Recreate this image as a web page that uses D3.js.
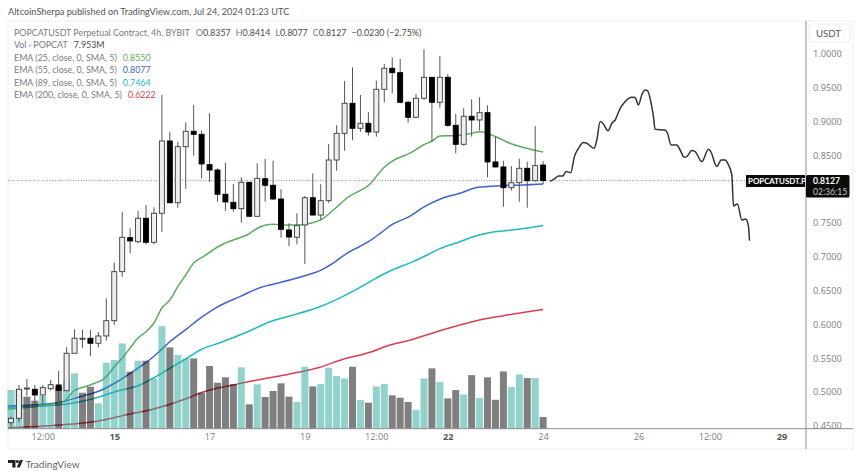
<!DOCTYPE html>
<html>
<head>
<meta charset="utf-8">
<script src="https://cdn.jsdelivr.net/npm/d3@7"></script>
<style>
html,body{margin:0;padding:0;background:#fff;}
svg{display:block;}
text{font-family:Lato,"Noto Sans",sans-serif;}
</style>
</head>
<body>
<svg id="chart" width="860" height="476"></svg>
<script>
const opens=[.4546,.4611,.5045,.5040,.4956,.5049,.5104,.5019,.5573,.5787,.5795,.5721,.5829,.6055,.6780,.7283,.7224,.7570,.7215,.7644,.8713,.7800,.8629,.8857,.8812,.8363,.8284,.7925,.7806,.7712,.8102,.7599,.8155,.8058,.7855,.7397,.7289,.7471,.7874,.7618,.7830,.8432,.8827,.9271,.8901,.8975,.8846,.9478,.9789,.9724,.9286,.9064,.9345,.9655,.9286,.9655,.8945,.8664,.9079,.9024,.9132,.8403,.8329,.8022,.8096,.8309,.8126,.8357];
const highs=[.4635,.5104,.5192,.5104,.5104,.5178,.5311,.5661,.5928,.5917,.5917,.5888,.6386,.6913,.7663,.7422,.7682,.7767,.7732,.9394,.8851,.8703,.8990,.9246,.8866,.9123,.8309,.8392,.8077,.8176,.8107,.8383,.8447,.8422,.7999,.7496,.7644,.7900,.8235,.8073,.8669,.8945,.9601,.9803,.9394,.9138,.9605,.9852,.9951,.9926,.9309,.9408,1.0070,.9655,.9971,.9700,.9113,.9197,.9330,.9360,.9241,.8777,.8422,.8343,.8451,.8407,.8935,.8414];
const lows=[.4487,.4556,.4941,.4808,.4808,.5019,.4808,.5015,.5570,.5651,.5533,.5661,.5759,.5991,.6706,.7052,.7200,.7185,.7185,.7371,.7792,.7726,.8003,.8496,.8161,.8111,.7815,.7678,.7667,.7505,.7593,.7593,.7815,.7840,.7283,.7160,.7185,.6894,.7614,.7545,.7800,.8274,.8570,.8728,.8851,.8792,.8777,.9286,.9419,.9271,.8984,.9053,.9320,.8703,.9206,.8925,.8531,.8644,.8777,.8866,.8176,.8324,.7741,.7978,.7815,.7726,.8111,.8077];
const closes=[.4611,.5040,.5059,.4956,.5064,.5108,.5025,.5573,.5795,.5795,.5721,.5829,.6055,.6780,.7289,.7234,.7570,.7215,.7644,.8713,.7800,.8629,.8857,.8812,.8373,.8284,.7925,.7811,.7712,.8102,.7599,.8161,.8058,.7855,.7407,.7293,.7460,.7874,.7618,.7830,.8432,.8827,.9271,.8901,.8975,.8846,.9478,.9789,.9724,.9286,.9064,.9345,.9655,.9286,.9655,.8945,.8664,.9079,.9024,.9132,.8403,.8329,.8022,.8096,.8309,.8126,.8348,.8127];
const volumes=[26.3,26.3,21.8,19.1,22.2,16.1,28.6,33.1,37.7,24.5,28.6,17.3,44.9,46.8,58.1,38.8,46.3,46.3,34.3,69.9,55.4,50.2,47.9,47.9,24.5,42.7,31.3,35.0,30.4,41.8,16.6,30.2,21.6,25.7,30.9,21.8,18.2,42.2,28.8,30.4,41.5,35.9,34.3,42.2,19.5,17.7,28.8,30.4,22.7,21.1,18.2,12.7,34.3,41.1,31.8,20.7,26.3,23.4,36.5,20.9,35.0,19.7,39.0,28.4,37.0,34.5,34.5,7.953];
const volumeUp=[1,1,0,0,1,1,0,1,1,0,0,1,1,1,1,0,1,0,1,1,0,1,1,0,0,0,0,0,0,1,0,1,0,0,0,0,1,1,0,1,1,1,1,0,1,0,1,1,0,0,0,1,1,0,1,0,0,1,0,1,0,0,0,1,1,0,1,0];

const ema25Idx=[-0.4,5.9,6.9,7.9,9.95,12,13,14,15,16,17,18,19,20,21,22,23,24.2,26.7,28,29.7,31.4,33,34.3,36,37.7,39,40.6,42.3,45.2,46.9,48.1,50.3,51.9,53,54,55.9,57.4,59.1,61.2,62.8,64.9,67];
const ema25=[.4749,.4837,.4882,.5015,.5104,.5226,.5374,.5503,.5651,.5799,.5892,.6021,.6243,.6361,.6558,.6731,.6908,.7002,.7189,.7249,.7323,.7445,.7481,.7471,.7471,.7496,.7545,.7692,.7870,.8077,.8314,.8422,.8536,.8654,.8713,.8787,.8792,.8812,.8851,.8768,.8679,.8605,.8550];
const ema55Idx=[-0.4,5.9,8.7,11.2,13.1,16.25,17.9,20,22.2,23.8,25.7,28.8,31.6,32.6,35.1,37.7,38.9,40.2,42.3,45,46.5,47.9,50.3,51.9,54,56.5,58.8,61.6,64.5,67];
const ema55=[.4793,.4842,.4931,.5019,.5133,.5374,.5518,.5744,.5942,.6090,.6238,.6410,.6553,.6583,.6657,.6746,.6795,.6879,.7052,.7223,.7348,.7471,.7604,.7732,.7851,.7940,.8028,.8052,.8062,.8077];
const ema89Idx=[-0.4,5.9,8.7,11.2,13.1,16.25,18.1,20,22.2,23.8,26.3,30.1,32.6,35.1,38.9,43.5,45.2,47.7,50.3,52.4,54,56.5,58.8,60.7,62.8,67];
const ema89=[.4774,.4808,.4857,.4931,.5005,.5104,.5218,.5351,.5503,.5621,.5729,.5907,.6040,.6125,.6262,.6519,.6632,.6790,.6913,.7027,.7120,.7223,.7318,.7367,.7392,.7464];
const ema200Idx=[-0.4,6.2,11.2,15,17.5,22.2,23.8,28,32.6,35.1,38.9,41.8,45.2,47.7,50.3,53.6,58.6,62,67];
const ema200=[.4472,.4512,.4576,.4675,.4734,.4907,.4985,.5104,.5212,.5266,.5366,.5484,.5587,.5695,.5769,.5892,.6055,.6129,.6222];

const sketchIdx=[67.88,68.51,68.93,69.47,69.89,70.48,70.94,71.45,72.08,72.50,72.92,73.42,73.76,74.18,74.51,75.18,75.65,76.07,76.70,77.32,78.16,78.58,79.00,79.42,79.84,80.14,80.56,80.89,81.10,82.36,82.66,83.12,83.83,84.25,84.76,85.09,85.72,86.14,86.98,87.82,88.11,88.87,89.42,89.92,90.34,90.76,90.97,91.47,92.02,92.52,92.86,92.98];
const sketchPrice=[.8117,.8161,.8196,.8196,.8260,.8245,.8482,.8605,.8689,.8679,.8640,.8605,.8728,.9000,.8975,.8866,.8975,.9024,.9197,.9295,.9360,.9355,.9246,.9394,.9468,.9458,.9295,.9074,.8886,.8876,.8827,.8654,.8654,.8580,.8472,.8482,.8571,.8556,.8408,.8590,.8556,.8334,.8433,.8433,.8359,.8211,.7752,.7782,.7545,.7560,.7446,.7239];

const priceTicks=[1.0,.95,.9,.85,.75,.7,.65,.6,.55,.5,.45];
const timeTickIdx=[4,13,25,37,46,55,67,79,88,97];
const timeTickLabels=["12:00","15","17","19","12:00","22","24","26","12:00","29"];
const boldTimeLabels=["15","22","29"];
const lastPrice=.8127;

const svg=d3.select("#chart");
const paneL=8,paneR=806,paneT=21,paneB=428.7,frameR=853,frameB=449;
const x=d3.scaleLinear().domain([-0.378,100.1]).range([paneL,paneR]);
const y=d3.scaleLinear().domain([.45,1.0]).range([425.8,54]);
const vol=d3.scaleLinear().domain([0,100]).range([paneB,paneB-146.8]);

// frame
svg.append("rect").attr("x",paneL).attr("y",paneT).attr("width",frameR-paneL).attr("height",frameB-paneT)
  .attr("fill","none").attr("stroke","#eceef1");

// EMAs (below the translucent volume)
const lineGen=d3.line().x(d=>x(d[0])).y(d=>y(d[1])).curve(d3.curveMonotoneX);
const emaSeries=[[ema200Idx,ema200,"#d9404f"],[ema89Idx,ema89,"#22b7c1"],[ema55Idx,ema55,"#3e63cc"],[ema25Idx,ema25,"#5cab5f"]];
emaSeries.forEach(s=>{
  svg.append("path").datum(d3.zip(s[0],s[1])).attr("d",lineGen)
    .attr("fill","none").attr("stroke",s[2]).attr("stroke-width",1.5);
});

// volume
svg.append("g").selectAll("rect").data(volumes).join("rect")
  .attr("x",(d,i)=>x(i)-3.5).attr("width",7)
  .attr("y",d=>vol(d)).attr("height",d=>vol(0)-vol(d))
  .attr("fill",(d,i)=>volumeUp[i]?"rgba(38,166,154,.5)":"rgba(0,0,0,.5)");

// price line
svg.append("line").attr("x1",paneL).attr("x2",paneR).attr("y1",y(lastPrice)).attr("y2",y(lastPrice))
  .attr("stroke","#6a6a6a").attr("stroke-width",.8).attr("stroke-dasharray","1 1.6");

// candles
const c=svg.append("g").selectAll("g").data(d3.range(opens.length)).join("g");
c.append("line").attr("x1",i=>x(i)).attr("x2",i=>x(i))
  .attr("y1",i=>y(highs[i])).attr("y2",i=>y(lows[i]))
  .attr("stroke","#555").attr("stroke-width",1);
c.append("rect").attr("x",i=>x(i)-2.5).attr("width",5)
  .attr("y",i=>y(Math.max(opens[i],closes[i])))
  .attr("height",i=>Math.max(1,Math.abs(y(opens[i])-y(closes[i]))))
  .attr("fill",i=>closes[i]>=opens[i]?"#eeeef1":"#000")
  .attr("stroke",i=>closes[i]>=opens[i]?"#3a3a3a":"#000").attr("stroke-width",.9);

// sketch
svg.append("path").datum(d3.zip(sketchIdx,sketchPrice)).attr("d",lineGen)
  .attr("fill","none").attr("stroke","#333").attr("stroke-width",1.5).attr("stroke-linejoin","round");

// axes
svg.append("line").attr("x1",paneL).attr("x2",frameR).attr("y1",paneB).attr("y2",paneB).attr("stroke","#8c8c8c");
svg.append("line").attr("x1",paneR).attr("x2",paneR).attr("y1",paneT).attr("y2",frameB).attr("stroke","#8c8c8c");

const yAxis=svg.append("g").attr("transform",`translate(${paneR},0)`)
  .call(d3.axisRight(y).tickValues(priceTicks).tickSize(0).tickPadding(7).tickFormat(d3.format(".4f")));
yAxis.select(".domain").remove();
yAxis.selectAll("text").attr("fill","#7b7e88").style("font-size","9.2px").style("font-family",'"Open Sans"');

const xAxis=svg.append("g").attr("transform",`translate(0,${paneB})`)
  .call(d3.axisBottom(x).tickValues(timeTickIdx).tickSize(0).tickPadding(5).tickFormat((d,i)=>timeTickLabels[i]));
xAxis.select(".domain").remove();
xAxis.selectAll("text").attr("fill",(d,i)=>boldTimeLabels.includes(timeTickLabels[i])?"#555":"#7b7e88")
  .style("font-weight",(d,i)=>boldTimeLabels.includes(timeTickLabels[i])?"700":"400")
  .style("font-size","9.2px").style("font-family",'"Open Sans"');

// USDT button
svg.append("rect").attr("x",809).attr("y",24).attr("width",41).attr("height",18).attr("rx",2.5)
  .attr("fill","#fff").attr("stroke","#e9ebee");
svg.append("text").attr("x",816).attr("y",36.5).attr("font-size",9.6).attr("fill","#555").text("USDT");

// price labels
svg.append("rect").attr("x",746).attr("y",175).attr("width",59).attr("height",12).attr("fill","#0b0b0b");
svg.append("text").attr("x",748).attr("y",184).attr("font-size",7.9).attr("font-weight",700).attr("fill","#fff").text("POPCATUSDT.P");
svg.append("rect").attr("x",806).attr("y",175).attr("width",43.5).attr("height",22.5).attr("rx",1.5).attr("fill","#0b0b0b");
svg.append("text").attr("x",813).attr("y",184).attr("font-size",8.6).attr("font-weight",700).attr("fill","#fff").text("0.8127");
svg.append("text").attr("x",813).attr("y",194.6).attr("font-size",8.6).attr("fill","#c9c9c9").text("02:36:15");

// header
svg.append("text").attr("x",8).attr("y",15).attr("font-size",9.2).attr("fill","#555")
  .text("AltcoinSherpa published on TradingView.com, Jul 24, 2024 01:23 UTC");

function legend(yPos,parts){
  const t=svg.append("text").attr("x",14).attr("y",yPos).attr("font-size",8.9);
  parts.forEach(p=>t.append("tspan").attr("fill",p[1]).attr("dx",p[2]||0).text(p[0]));
}
const grey="#787b86",dark="#4a4a4a";
legend(35.5,[["POPCATUSDT Perpetual Contract, 4h, BYBIT",grey],["O",grey,6],["0.8357",dark],["H",grey,5],["0.8414",dark],["L",grey,5],["0.8077",dark],["C",grey,5],["0.8127",dark],["−0.0230 (−2.75%)",dark,5]]);
legend(48,[["Vol · POPCAT",grey],["7.953M",dark,6]]);
legend(60.5,[["EMA (25, close, 0, SMA, 5)",grey],["0.8550","#5cab5f",6]]);
legend(73,[["EMA (55, close, 0, SMA, 5)",grey],["0.8077","#3e63cc",6]]);
legend(85.5,[["EMA (89, close, 0, SMA, 5)",grey],["0.7464","#22b7c1",6]]);
legend(98,[["EMA (200, close, 0, SMA, 5)",grey],["0.6222","#d9404f",6]]);

// footer logo
svg.append("path").attr("fill","#222")
  .attr("d","M8 460h7.5v7.5h-3.2v-4.5H8z M16.8 467.5l3-7.5h3.2l-3.2 7.5z");
svg.append("circle").attr("cx",17.3).attr("cy",461.5).attr("r",1.5).attr("fill","#222");
svg.append("text").attr("x",25.5).attr("y",467.5).attr("font-size",10).attr("fill","#666").text("TradingView");
</script>
</body>
</html>
